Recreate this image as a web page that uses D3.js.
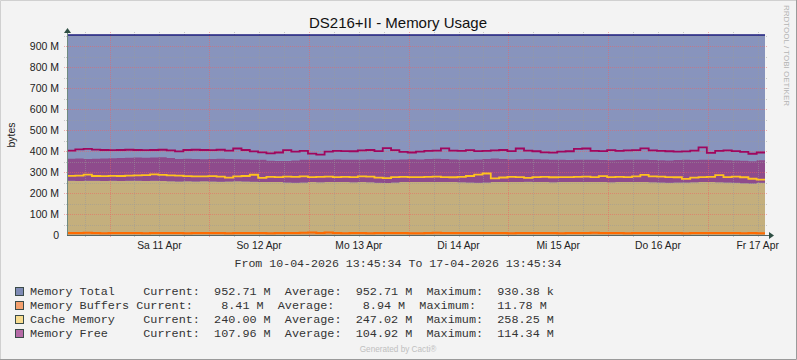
<!DOCTYPE html>
<html>
<head>
<meta charset="utf-8">
<script src="https://cdn.jsdelivr.net/npm/d3@7"></script>
<style>
  html, body { margin: 0; padding: 0; background: #f3f3f3; }
  svg { display: block; }
  .mono { font-family: "Liberation Mono", monospace; white-space: pre; }
  .sans { font-family: "Liberation Sans", Arial, sans-serif; }
</style>
</head>
<body>
<div id="container"></div>
<script>
// time range of the graph (treated as UTC so the sandbox timezone doesn't matter)
const startTime = new Date(Date.UTC(2026, 3, 10, 13, 45, 34));
const endTime = new Date(Date.UTC(2026, 3, 17, 13, 45, 34));

// values in M (bytes / 1e6), one sample every 2 hours
const memTotal = [952.71, 952.71];
const buffers = [10,9,11,9,8,9,10,9,9,8, 9,9,10,9,8,9,9,10,9,8,
  9,10,9,9,8,9,9,9,11,11.5, 10,11.5,9,8,9,9,8,9,10,9,
  9,8,8,9,11,10,9,9,10,9, 9,10,9,8,9,9,10,9,9,8,
  9,9,10,11,9,9,9,8,9,9, 10,9,9,9,8,9,9,10,9,9,
  9,8,9,8.4];
const cache = [248,248,248,249,249,249,247,249,249,249, 249,248,246,246,248,246,247,245,245,247,
  247,245,245,244,244,244,241,240,239,240.5, 241,240.5,244,244,242,243,243,240,238,241,
  243,245,244,244,241,243,243,242,240,240, 241,242,244,244,244,245,243,243,242,244,
  244,243,243,241,243,242,243,245,243,243, 241,241,240,241,242,242,243,242,242,241,
  240,239,236,240];
const free = [105,107,103,105,107,108,110,110,111,111, 111,113,111,107,107,107,105,107,109,107,
  105,105,105,105,102,99,103,106,108,107, 107,107,107,107,107,107,109,109,109,109,
  108,108,108,109,111,109,108,107,109,111, 112,112,109,108,108,108,108,108,108,106,
  104,106,106,106,105,105,105,105,107,106, 106,106,106,107,108,106,106,107,106,106,
  106,107,106,108];
const cacheLine = [282,283,288,281,280,282,281,283,284,285, 289,286,284,283,280,279,279,280,278,273,
  279,281,287,272,277,276,278,277,279,276, 277,278,276,277,276,279,278,273,271,276,
  277,276,276,277,278,276,275,277,281,288, 293,270,274,277,276,272,276,277,275,276,
  276,277,278,276,280,276,277,276,279,286, 279,278,276,275,267,273,276,277,285,276,
  278,275,268,264];
const freeLine = [402,408,410,407,405,404,405,406,405,404, 405,406,403,398,405,406,405,404,406,402,
  412,405,398,394,389,393,404,397,401,388, 383,397,401,400,399,403,405,400,414,404,
  396,393,397,401,402,413,402,401,404,400, 401,403,405,400,412,402,399,394,392,397,
  399,410,412,401,400,404,401,403,404,413, 403,401,399,397,398,402,417,391,401,403,
  400,396,387,393];

const yTicks = [0, 100, 200, 300, 400, 500, 600, 700, 800, 900];
const yTickLabels = ['0', '100 M', '200 M', '300 M', '400 M', '500 M', '600 M', '700 M', '800 M', '900 M'];
const dayLabels = ['Sa 11 Apr', 'So 12 Apr', 'Mo 13 Apr', 'Di 14 Apr', 'Mi 15 Apr', 'Do 16 Apr', 'Fr 17 Apr'];

const legendColors = ['#7f8bb5', '#f4a06e', '#f9dd90', '#b56aa6'];
const legendText = [
  'Memory Total    Current:  952.71 M  Average:  952.71 M  Maximum:  930.38 k',
  'Memory Buffers Current:    8.41 M  Average:    8.94 M  Maximum:   11.78 M',
  'Cache Memory    Current:  240.00 M  Average:  247.02 M  Maximum:  258.25 M',
  'Memory Free     Current:  107.96 M  Average:  104.92 M  Maximum:  114.34 M'
];

const width = 797;
const height = 360;
const plot = { left: 67, right: 765, top: 35, bottom: 235 };

const svg = d3.select('#container')
  .append('svg')
  .attr('width', width)
  .attr('height', height);

svg.append('rect').attr('width', width).attr('height', height).attr('fill', '#f3f3f3');
// 3d-ish frame
svg.append('path').attr('d', `M0.5,${height} V0.5 H${width}`).attr('fill', 'none').attr('stroke', '#d0d0d0');
svg.append('path').attr('d', `M0,${height - 0.5} H${width - 0.5} V0`).attr('fill', 'none').attr('stroke', '#9a9a9a');

const n = buffers.length;
const xi = d3.scaleLinear().domain([0, n]).range([plot.left, plot.right]);
const xt = d3.scaleUtc().domain([startTime, endTime]).range([plot.left, plot.right]);
const y = d3.scaleLinear().domain([0, 952.71]).range([plot.bottom, plot.top]);

// table for stacking, last row repeated so the final step reaches the right edge
const table = buffers.map((b, i) => ({ buffers: b, cache: cache[i], free: free[i], cacheLine: cacheLine[i], freeLine: freeLine[i] }));
table.push(Object.assign({}, table[n - 1]));
const stacked = d3.stack().keys(['buffers', 'cache', 'free'])(table);

const area = d3.area()
  .curve(d3.curveStepAfter)
  .x((d, i) => xi(i))
  .y0(d => y(d[0]))
  .y1(d => y(d[1]));

// memory total
svg.append('path')
  .datum(memTotal)
  .attr('fill', '#8894bd')
  .attr('d', d3.area().x((d, i) => plot.left + i * (plot.right - plot.left)).y0(y(0)).y1(d => y(d)));

const fills = ['#c5a276', '#c4af7d', '#8e4b8c'];
svg.append('g')
  .selectAll('path')
  .data(stacked)
  .join('path')
  .attr('fill', (d, i) => fills[i])
  .attr('d', area);

// grid (dotted)
const grid = svg.append('g').attr('shape-rendering', 'crispEdges');
const minorStyle = g => g.attr('stroke', '#9a9a9a').attr('stroke-opacity', 0.5).attr('stroke-dasharray', '1,1');
const majorStyle = g => g.attr('stroke', '#f06060').attr('stroke-opacity', 0.5).attr('stroke-dasharray', '1,1');
const minorY = d3.range(50, 952, 100);
grid.selectAll('.ymin')
  .data(minorY)
  .join('line')
  .attr('x1', plot.left - 3).attr('x2', plot.right + 3)
  .attr('y1', d => Math.round(y(d)) + 0.5).attr('y2', d => Math.round(y(d)) + 0.5)
  .call(minorStyle);
grid.selectAll('.ymaj')
  .data(yTicks.slice(1))
  .join('line')
  .attr('x1', plot.left - 3).attr('x2', plot.right + 3)
  .attr('y1', d => Math.round(y(d)) + 0.5).attr('y2', d => Math.round(y(d)) + 0.5)
  .call(majorStyle);

const days = d3.utcDay.range(startTime, endTime);
const sixHours = d3.utcHour.every(6).range(startTime, endTime).filter(d => d.getUTCHours() !== 0);
grid.selectAll('.xmin')
  .data(sixHours)
  .join('line')
  .attr('x1', d => Math.round(xt(d)) + 0.5).attr('x2', d => Math.round(xt(d)) + 0.5)
  .attr('y1', plot.top - 3).attr('y2', plot.bottom + 3)
  .call(minorStyle);
grid.selectAll('.xmaj')
  .data(days)
  .join('line')
  .attr('x1', d => Math.round(xt(d)) + 0.5).attr('x2', d => Math.round(xt(d)) + 0.5)
  .attr('y1', plot.top - 3).attr('y2', plot.bottom + 3)
  .call(majorStyle);

// lines
svg.append('line')
  .attr('x1', plot.left).attr('x2', plot.right)
  .attr('y1', y(memTotal[0])).attr('y2', y(memTotal[1]))
  .attr('stroke', '#1c1c7c').attr('stroke-width', 1.5);

const stepLine = key => d3.line()
  .curve(d3.curveStepAfter)
  .x((d, i) => xi(i))
  .y(d => y(d[key]));

svg.append('path').datum(table).attr('fill', 'none')
  .attr('stroke', '#ff6a00').attr('stroke-width', 2).attr('d', stepLine('buffers'));
svg.append('path').datum(table).attr('fill', 'none')
  .attr('stroke', '#ffc21e').attr('stroke-width', 1.8).attr('d', stepLine('cacheLine'));
svg.append('path').datum(table).attr('fill', 'none')
  .attr('stroke', '#a0065e').attr('stroke-width', 1.8).attr('d', stepLine('freeLine'));

// axes
svg.append('line').attr('x1', plot.left + 0.5).attr('x2', plot.left + 0.5)
  .attr('y1', plot.bottom).attr('y2', plot.top - 4)
  .attr('stroke', '#6f8a80');
svg.append('line').attr('x1', plot.left).attr('x2', plot.right + 6)
  .attr('y1', plot.bottom + 0.5).attr('y2', plot.bottom + 0.5)
  .attr('stroke', '#5a6660');
svg.append('path')
  .attr('d', `M${plot.left - 3},${plot.top - 2} L${plot.left + 0.5},${plot.top - 7} L${plot.left + 4},${plot.top - 2} Z`)
  .attr('fill', '#2f4f44');
svg.append('path')
  .attr('d', `M${plot.right + 4},${plot.bottom - 3} L${plot.right + 9},${plot.bottom + 0.5} L${plot.right + 4},${plot.bottom + 4} Z`)
  .attr('fill', '#2f4f44');

// y tick labels
svg.append('g')
  .selectAll('text')
  .data(yTicks)
  .join('text')
  .attr('class', 'sans')
  .attr('x', 59)
  .attr('y', d => y(d) + 3.8)
  .attr('text-anchor', 'end')
  .attr('font-size', 10.5)
  .attr('fill', '#222')
  .text((d, i) => yTickLabels[i]);

// x tick labels at noon
svg.append('g')
  .selectAll('text')
  .data(days)
  .join('text')
  .attr('class', 'sans')
  .attr('x', d => xt(d3.utcHour.offset(d, 12)))
  .attr('y', 249)
  .attr('text-anchor', 'middle')
  .attr('font-size', 10.3)
  .attr('fill', '#222')
  .text((d, i) => dayLabels[i]);

// title and labels
svg.append('text').attr('class', 'sans')
  .attr('x', 398).attr('y', 28).attr('text-anchor', 'middle')
  .attr('font-size', 15).attr('fill', '#111')
  .text('DS216+II - Memory Usage');

svg.append('text').attr('class', 'sans')
  .attr('transform', 'translate(15,135) rotate(-90)')
  .attr('text-anchor', 'middle')
  .attr('font-size', 10.5).attr('fill', '#222')
  .text('bytes');

svg.append('text').attr('class', 'sans')
  .attr('transform', 'translate(784,5) rotate(90)')
  .attr('font-size', 8).attr('fill', '#b4b4b4')
  .text('RRDTOOL / TOBI OETIKER');

svg.append('text').attr('class', 'mono')
  .attr('x', 398).attr('y', 267).attr('text-anchor', 'middle')
  .attr('font-size', 11.6).attr('fill', '#333')
  .text('From 10-04-2026 13:45:34 To 17-04-2026 13:45:34');

// legend
const legend = svg.append('g');
legend.selectAll('rect')
  .data(legendColors)
  .join('rect')
  .attr('x', 15.5).attr('y', (d, i) => 287.5 + i * 14)
  .attr('width', 8).attr('height', 8)
  .attr('fill', d => d)
  .attr('stroke', '#3a4a48');
legend.selectAll('text')
  .data(legendText)
  .join('text')
  .attr('class', 'mono')
  .attr('x', 30).attr('y', (d, i) => 295 + i * 14)
  .attr('font-size', 11.8).attr('fill', '#333')
  .text(d => d);

svg.append('text').attr('class', 'sans')
  .attr('x', 398).attr('y', 352).attr('text-anchor', 'middle')
  .attr('font-size', 8.2).attr('fill', '#c0c0c0')
  .text('Generated by Cacti®');
</script>
</body>
</html>
